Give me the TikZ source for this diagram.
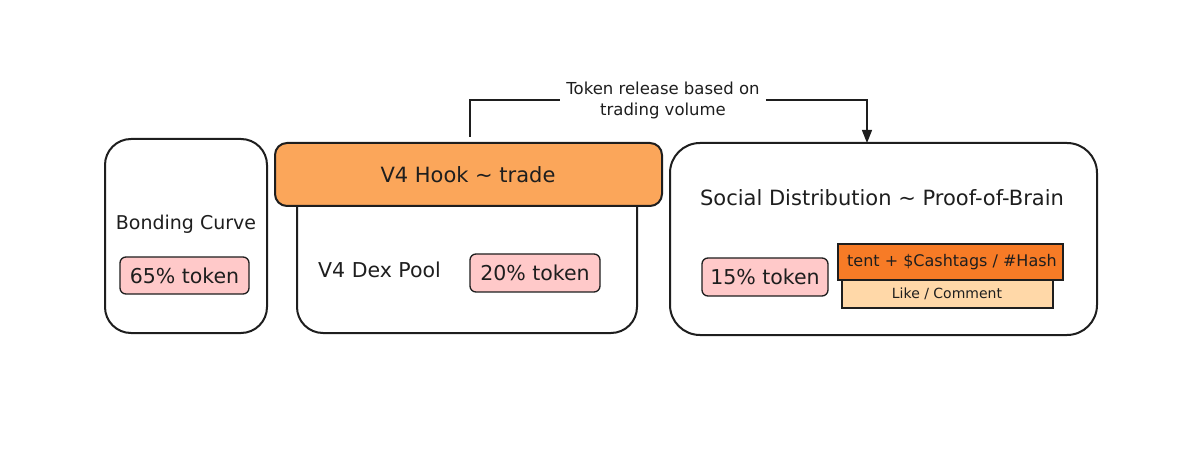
\documentclass[tikz,border=0pt]{standalone}
\usepackage{fontspec}
\setmainfont{DejaVu Sans}
\usetikzlibrary{arrows.meta}
\definecolor{ink}{HTML}{1E1E1E}
\definecolor{hookfill}{HTML}{FBA65A}
\definecolor{pinkfill}{HTML}{FFC9C9}
\definecolor{barfill}{HTML}{F77B26}
\definecolor{likefill}{HTML}{FFD8A8}
\tikzset{
  bigbox/.style={draw=ink, line width=2pt, fill=white},
  tokenbox/.style={draw=ink, line width=1.3pt, fill=pinkfill, rounded corners=6pt},
  lbl/.style={text=ink, inner sep=0pt, anchor=center},
  conn/.style={draw=ink, line width=1.3pt},
}
\begin{document}
\begin{tikzpicture}[x=1pt,y=-1pt]
\useasboundingbox (0,0) rectangle (1200,457);
% Bonding curve
\draw[bigbox, rounded corners=26pt] (105,139) rectangle (267,333);
\node[lbl, font=\fontsize{19}{23}\selectfont] (bc) at (186,224) {Bonding Curve};
\draw[tokenbox] (120,257) rectangle (249,294);
\node[lbl, font=\fontsize{20.5}{24}\selectfont] (t65) at (184.5,275.5) {65\% token};
% Dex pool
\draw[bigbox, rounded corners=26pt] (297,180) rectangle (637,333);
\draw[draw=ink, line width=2pt, fill=hookfill, rounded corners=12pt] (275,143) rectangle (662,206);
\node[lbl, font=\fontsize{21}{25}\selectfont] (hook) at (468,175) {V4 Hook \char`\~{} trade};
\node[lbl, font=\fontsize{20.5}{24}\selectfont, anchor=west] (dex) at (318,270) {V4 Dex Pool};
\draw[tokenbox] (470,254) rectangle (600,292);
\node[lbl, font=\fontsize{20.5}{24}\selectfont] (t20) at (535,273) {20\% token};
% Social
\draw[bigbox, rounded corners=30pt] (670,143) rectangle (1097,335);
\node[lbl, font=\fontsize{21}{25}\selectfont] (soc) at (882,198) {Social Distribution \char`\~{} Proof-of-Brain};
\draw[tokenbox] (702,258) rectangle (828,296);
\node[lbl, font=\fontsize{20.5}{24}\selectfont] (t15) at (765,277) {15\% token};
\draw[draw=ink, line width=1.2pt, fill=likefill] (842,280) rectangle (1053,308);
\node[lbl, font=\fontsize{14}{17}\selectfont] (like) at (947,294) {Like / Comment};
\draw[draw=ink, line width=1.2pt, fill=barfill] (838,244) rectangle (1063,280);
\node[lbl, font=\fontsize{16}{19}\selectfont, anchor=west] (cash) at (847,262) {tent + \$Cashtags / \#Hash};
% Connector
\coordinate (a) at (470,137);
\coordinate (b) at (867,143);
\node[lbl, font=\fontsize{16.5}{21}\selectfont, align=center, inner sep=6pt] (rel) at (663,100) {Token release based on\\trading volume};
\draw[conn] (a) |- (rel);
\draw[conn, -{Triangle[width=10pt,length=13pt]}] (rel) -| (b);
\end{tikzpicture}
\end{document}
